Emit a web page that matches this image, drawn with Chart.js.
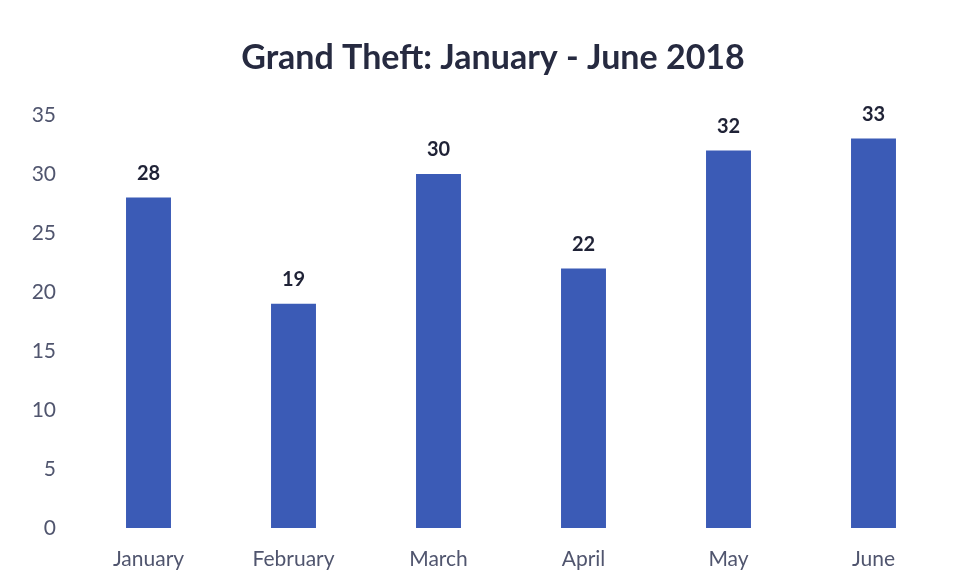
<!DOCTYPE html>
<html>
<head>
<meta charset="utf-8">
<script src="https://cdn.jsdelivr.net/npm/chart.js@4/dist/chart.umd.min.js"></script>
<style>
  html, body { margin: 0; padding: 0; background: #ffffff; }
  #wrap { width: 964px; height: 586px; }
</style>
</head>
<body>
<div id="wrap"><canvas id="c" width="964" height="586"></canvas></div>
<script>
// Monthly grand theft counts, first half of 2018
const months = ['January', 'February', 'March', 'April', 'May', 'June'];
const thefts = [28, 19, 30, 22, 32, 33];
const yTicks = [0, 5, 10, 15, 20, 25, 30, 35];
const chartTitle = 'Grand Theft: January - June 2018';

const FONT = 'Lato, "Open Sans", sans-serif';

// Heading drawn a little right of the canvas centre, above the plot
const heading = {
  id: 'heading',
  afterDraw(chart) {
    const ctx = chart.ctx;
    ctx.save();
    ctx.font = 'bold 34px ' + FONT;
    ctx.fillStyle = '#262a40';
    ctx.textAlign = 'center';
    ctx.textBaseline = 'middle';
    ctx.fillText(chartTitle, chart.width / 2 + 11, 58);
    ctx.restore();
  }
};

// Bold value printed above each bar
const valueLabels = {
  id: 'valueLabels',
  afterDatasetsDraw(chart) {
    const ctx = chart.ctx;
    const meta = chart.getDatasetMeta(0);
    ctx.save();
    ctx.font = 'bold 20px ' + FONT;
    ctx.fillStyle = '#1f2236';
    ctx.textAlign = 'center';
    ctx.textBaseline = 'middle';
    meta.data.forEach((bar, i) => {
      ctx.fillText(String(thefts[i]), bar.x, bar.y - 24);
    });
    ctx.restore();
  }
};

new Chart(document.getElementById('c'), {
  type: 'bar',
  data: {
    labels: months,
    datasets: [{
      data: thefts,
      backgroundColor: '#3b5bb6',
      borderWidth: 0,
      barPercentage: 0.62,
      categoryPercentage: 0.5
    }]
  },
  options: {
    responsive: false,
    animation: false,
    layout: { padding: { top: 115, left: 12, right: 18, bottom: 0 } },
    plugins: {
      legend: { display: false },
      tooltip: { enabled: false },
      title: { display: false }
    },
    scales: {
      x: {
        afterFit(scale) { scale.height = 58; },
        grid: { display: false, drawTicks: false },
        border: { display: false },
        ticks: {
          color: '#50556e',
          font: { family: FONT, size: 21 },
          padding: 19
        }
      },
      y: {
        min: 0,
        max: 35,
        afterBuildTicks(scale) {
          scale.ticks = yTicks.map(v => ({ value: v }));
        },
        afterFit(scale) { scale.width = 64; },
        grid: { display: false, drawTicks: false },
        border: { display: false },
        ticks: {
          color: '#50556e',
          font: { family: FONT, size: 21 },
          padding: 20
        }
      }
    }
  },
  plugins: [valueLabels, heading]
});
</script>
</body>
</html>
